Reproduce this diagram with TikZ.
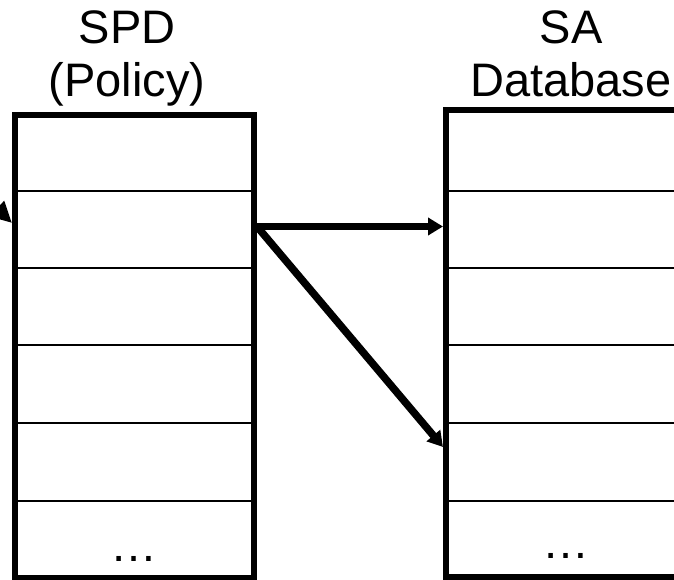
\documentclass[tikz,border=0pt]{standalone}
\usepackage{fontspec}
\setmainfont{Liberation Sans}
\usetikzlibrary{arrows.meta}
\begin{document}
\begin{tikzpicture}[x=1pt,y=-1pt,
  table/.style={draw, line width=6pt, rectangle, inner sep=0pt},
  rowline/.style={line width=2pt},
  link/.style={line width=7.5pt, -{Triangle[length=15pt,width=17pt]}},
  heading/.style={font=\fontsize{47}{52.7}\selectfont, align=center, inner sep=0pt, anchor=base},
  more/.style={font=\fontsize{47}{52.7}\selectfont, inner sep=0pt, anchor=base}]
\useasboundingbox (0,0) rectangle (674,580);
\clip (0,0) rectangle (674,580);

% the two tables
\node[table, minimum width=239pt, minimum height=463pt] (spd) at (134.5,346.5) {};
\node[table, minimum width=240pt, minimum height=467pt] (sa) at (566,343.5) {};

% row separators
\foreach \y in {191,268,345,423,501} {
  \draw[rowline] (spd.west |- 0,\y) -- (spd.east |- 0,\y);
  \draw[rowline] (sa.west |- 0,\y) -- (sa.east |- 0,\y);
}

% headings (the base anchor sits on the last line)
\node[heading] (spdtitle) at (127,96.7) {SPD\\(Policy)};
\node[heading] (satitle) at (571,96.7) {SA\\Database};

% continuation marks in the last rows
\node[more] (spdmore) at (133.5,561) {…};
\node[more] (samore) at (566,558) {…};

% pointers from the policy entry into the SA database
\coordinate (src) at (spd.east |- 0,226.5);
\draw[link] (src) -- (sa.west |- 0,226.5);
\draw[link] (src) -- (sa.west |- 0,447);

% incoming pointer on the left
\coordinate (feed) at (-46,168);
\draw[line width=7.5pt, -{Triangle[length=21pt,width=20pt]}] (feed) -- (spd.west |- 0,223);
\end{tikzpicture}
\end{document}
